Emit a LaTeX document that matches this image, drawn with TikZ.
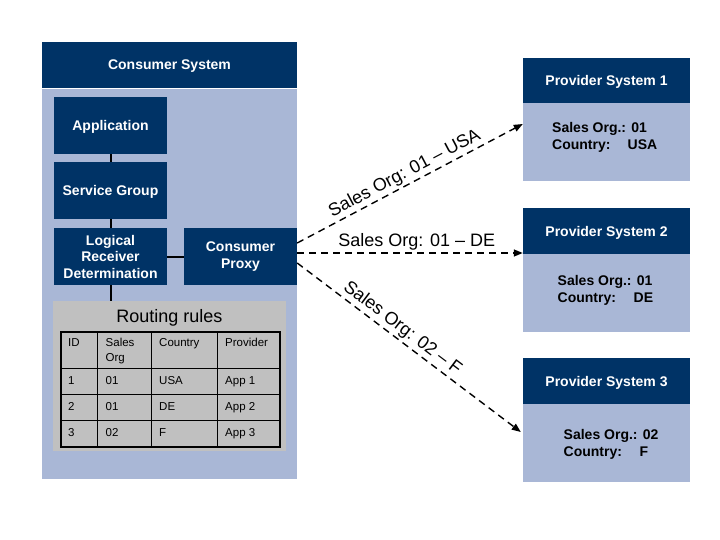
\documentclass[tikz,border=0pt]{standalone}
\usepackage{fontspec}
\setmainfont{Liberation Sans}
\usetikzlibrary{arrows.meta,calc}
\definecolor{navy}{RGB}{0,51,102}
\definecolor{lightblue}{RGB}{169,183,214}
\definecolor{rulegray}{RGB}{192,192,192}
\begin{document}
\begin{tikzpicture}[x=1pt,y=-1pt,
  darkbox/.style={fill=navy, text=white, font=\fontsize{14}{16.5}\selectfont\bfseries, align=center, inner sep=0pt},
  onerow/.style={text depth=0pt},
  lightbody/.style={fill=lightblue, inner sep=0pt},
  conn/.style={draw=black, line width=2pt},
  route/.style={draw=black, line width=1.4pt, dash pattern=on 7pt off 5pt, -{Triangle[length=9pt,width=7pt]}},
  routelabel/.style={font=\fontsize{18}{21}\selectfont, text=black, inner sep=2pt},
  cell/.style={font=\fontsize{11.5}{14.5}\selectfont, text=black, inner sep=0pt, align=left},
  provtext/.style={font=\fontsize{14}{16}\selectfont\bfseries, text=black, inner sep=0pt, anchor=base west},
  tableline/.style={draw=black, line width=1pt}
]
\useasboundingbox (0,0) rectangle (720,540);

% Consumer system
\node[lightbody, minimum width=255pt, minimum height=390pt] (cbody) at (169.5,284) {};
\node[darkbox, onerow, minimum width=255pt, minimum height=46pt] (chead) at (169.5,65) {Consumer System};

\node[darkbox, onerow, minimum width=113pt, minimum height=57pt] (app) at (110.5,125.5) {Application};
\node[darkbox, onerow, minimum width=113pt, minimum height=57pt] (sg) at (110.5,190.5) {Service Group};
\node[darkbox, minimum width=113pt, minimum height=57pt] (lrd) at (110.5,256.5) {Logical\\Receiver\\Determination};
\node[darkbox, minimum width=113pt, minimum height=57pt] (proxy) at (240.5,256.5) {Consumer\\Proxy};

% Routing rules box
\node[fill=rulegray, minimum width=233pt, minimum height=150pt, inner sep=0pt] (rules) at (169.5,376) {};
\node[font=\fontsize{18}{21}\selectfont, anchor=base, inner sep=0pt] (rtitle) at (169.5,322) {Routing rules};

% table grid
\foreach \yy in {368,394,420} {\draw[tableline] (61,\yy) -- (280,\yy);}
\foreach \xx in {97,151,217} {\draw[tableline] (\xx,332) -- (\xx,447);}
\draw[draw=black, line width=2.5pt] (61,332) rectangle (280,447);

% header cells
\node[cell, anchor=north west] (h1) at (68,338) {ID};
\node[cell, anchor=north west] (h2) at (105.5,338) {Sales\\Org};
\node[cell, anchor=north west] (h3) at (159,338) {Country};
\node[cell, anchor=north west] (h4) at (225,338) {Provider};
% data rows
\node[cell, anchor=base west] (r1a) at (68,384.5) {1};
\node[cell, anchor=base west] (r1b) at (105.5,384.5) {01};
\node[cell, anchor=base west] (r1c) at (159,384.5) {USA};
\node[cell, anchor=base west] (r1d) at (225,384.5) {App 1};
\node[cell, anchor=base west] (r2a) at (68,410.5) {2};
\node[cell, anchor=base west] (r2b) at (105.5,410.5) {01};
\node[cell, anchor=base west] (r2c) at (159,410.5) {DE};
\node[cell, anchor=base west] (r2d) at (225,410.5) {App 2};
\node[cell, anchor=base west] (r3a) at (68,436.5) {3};
\node[cell, anchor=base west] (r3b) at (105.5,436.5) {02};
\node[cell, anchor=base west] (r3c) at (159,436.5) {F};
\node[cell, anchor=base west] (r3d) at (225,436.5) {App 3};

% internal connectors
\draw[conn] (app.south) -- (sg.north);
\draw[conn] (sg.south) -- (lrd.north);
\draw[conn] (lrd.east) -- (proxy.west);
\draw[conn] (lrd.south) -- (lrd.south |- rules.north);

% Provider systems
\node[darkbox, onerow, minimum width=167pt, minimum height=45pt] (p1h) at (606.5,80.5) {Provider System 1};
\node[lightbody, minimum width=167pt, minimum height=78pt] (p1b) at (606.5,142) {};
\node[darkbox, onerow, minimum width=167pt, minimum height=46pt] (p2h) at (606.5,231) {Provider System 2};
\node[lightbody, minimum width=167pt, minimum height=78pt] (p2b) at (606.5,293) {};
\node[darkbox, onerow, minimum width=167pt, minimum height=46pt] (p3h) at (606.5,381) {Provider System 3};
\node[lightbody, minimum width=167pt, minimum height=78pt] (p3b) at (606.5,443) {};

\node[provtext] (p1s) at (552,132.5) {Sales Org.: 01};
\node[provtext] (p1c) at (552,149.5) {Country:};
\node[provtext] (p1v) at (627.5,149.5) {USA};
\node[provtext] (p2s) at (557.5,285.5) {Sales Org.: 01};
\node[provtext] (p2c) at (557.5,302.5) {Country:};
\node[provtext] (p2v) at (633.5,302.5) {DE};
\node[provtext] (p3s) at (563.5,439.5) {Sales Org.: 02};
\node[provtext] (p3c) at (563.5,456.5) {Country:};
\node[provtext] (p3v) at (639.5,456.5) {F};

% routes
\coordinate (s1) at ($(proxy.east)+(0,-13.5)$);
\coordinate (s2) at ($(proxy.east)+(0,-3.5)$);
\coordinate (s3) at ($(proxy.east)+(0,6.5)$);
\coordinate (e1) at ($(p1b.west)+(0,-18)$);
\coordinate (e2) at ($(p2b.west)+(0,-40)$);
\coordinate (e3) at ($(p3b.west)+(-2,-11)$);
\draw[route] (s1) -- node[routelabel, pos=0.5, above, sloped] {Sales Org: 01 – USA} (e1);
\draw[route] (s2) -- node[routelabel, pos=0.53, above] {Sales Org: 01 – DE} (e2);
\draw[route] (s3) -- node[routelabel, pos=0.44, above, sloped] {Sales Org: 02 – F} (e3);
\end{tikzpicture}
\end{document}
